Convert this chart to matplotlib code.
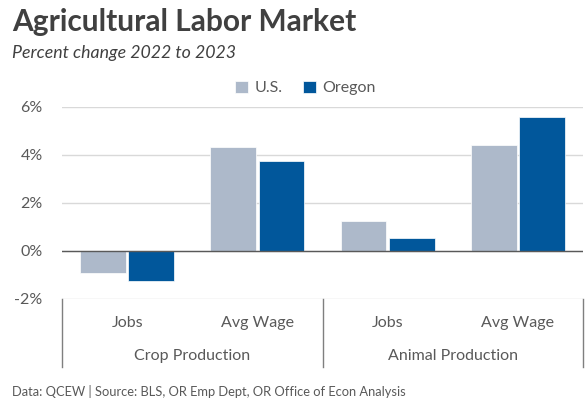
import matplotlib
matplotlib.use("Agg")
import matplotlib.pyplot as plt
from matplotlib.ticker import FuncFormatter
import numpy as np

# data
metrics = ["Jobs", "Avg Wage", "Jobs", "Avg Wage"]
groups = ["Crop Production", "Animal Production"]
us_vals = [-0.9, 4.33, 1.27, 4.41]
or_vals = [-1.27, 3.77, 0.54, 5.58]

plt.rcParams['font.family'] = ['Lato', 'DejaVu Sans']

us_color = "#ADB9CA"
or_color = "#01579B"
txt_gray = "#595959"

fig = plt.figure(figsize=(5.85, 4.0), dpi=100)
ax = fig.add_axes([0.106, 0.2525, 0.8906, 0.48])

x = np.arange(len(metrics))
w = 0.35
ax.bar(x - 0.185, us_vals, w, color=us_color, edgecolor="white", linewidth=0.5, label="U.S.", zorder=3)
ax.bar(x + 0.185, or_vals, w, color=or_color, edgecolor="white", linewidth=0.5, label="Oregon", zorder=3)

ax.set_xlim(-0.5, len(metrics) - 0.5)
ax.set_ylim(-2, 6)
ax.set_yticks([-2, 0, 2, 4, 6])
ax.yaxis.set_major_formatter(FuncFormatter(lambda v, p: f"{v:.0f}%"))
ax.tick_params(axis="y", length=0, labelsize=11.5, labelcolor=txt_gray, pad=14)
ax.set_xticks([])
ax.grid(axis="y", color="#D9D9D9", linewidth=1, zorder=0)
ax.axhline(0, color="#595959", linewidth=1, zorder=4)
for s in ax.spines.values():
    s.set_visible(False)

# two-level category axis
trans = ax.get_xaxis_transform()
for xi, m in zip(x, metrics):
    ax.text(xi, -0.125, m, transform=trans, ha="center", va="center",
            fontsize=11.5, color=txt_gray)
for i, g in enumerate(groups):
    ax.text(2 * i + 0.5, -0.297, g, transform=trans, ha="center", va="center",
            fontsize=11.5, color=txt_gray)
for xb in [-0.5, 1.5, 3.5]:
    ax.plot([xb, xb], [0, -0.354], transform=trans, color="#7F7F7F",
            linewidth=1, clip_on=False)

fig.text(0.02, 0.945, "Agricultural Labor Market", fontsize=21.5, fontweight="bold",
         color="#404040", ha="left", va="center")
fig.text(0.02, 0.868, "Percent change 2022 to 2023", fontsize=12.8, style="italic",
         color="#404040", ha="left", va="center")
fig.text(0.02, 0.022, "Data: QCEW | Source: BLS, OR Emp Dept, OR Office of Econ Analysis",
         fontsize=9.3, color=txt_gray, ha="left", va="center")

fig.legend(loc="center", bbox_to_anchor=(0.522, 0.78), ncol=2, frameon=False,
           fontsize=11.5, labelcolor=txt_gray, handlelength=0.8, handleheight=0.8,
           handletextpad=0.4, columnspacing=1.3)

fig.savefig("out.png", dpi=100)
